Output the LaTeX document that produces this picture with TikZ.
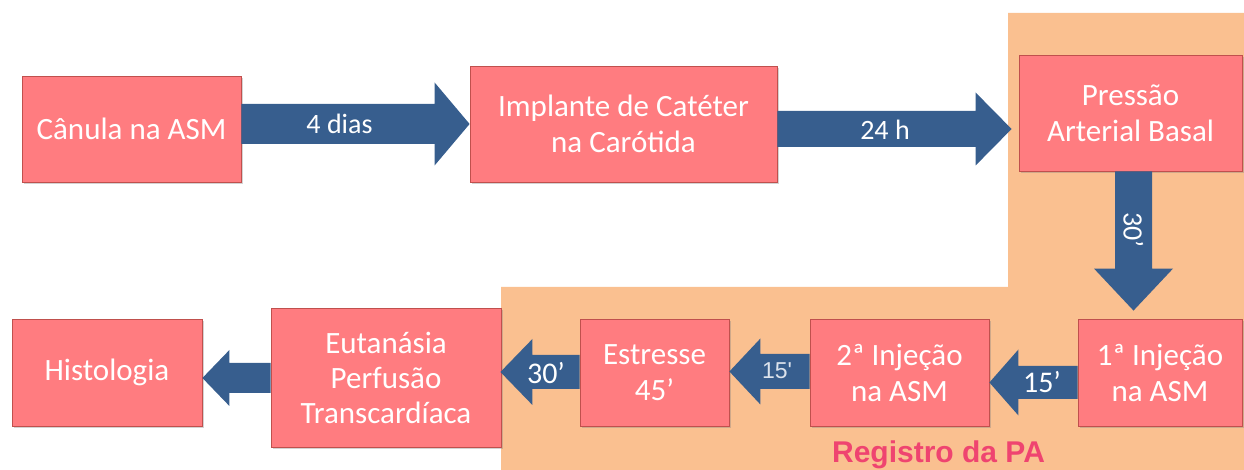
\documentclass[tikz,border=0pt]{standalone}
\usepackage{fontspec}
\setmainfont{Carlito}
\newfontfamily\arialf{Liberation Sans}
\usetikzlibrary{calc,shadows}
\definecolor{boxfill}{HTML}{FF7C80}
\definecolor{boxline}{HTML}{C0504D}
\definecolor{orangebg}{HTML}{FAC090}
\definecolor{arrowblue}{HTML}{375E8E}
\definecolor{regred}{HTML}{EF4470}
\definecolor{lightlab}{HTML}{DCE3EC}
\tikzset{
  stepbox/.style={draw=boxline, line width=0.8pt, fill=boxfill, text=white,
    align=center, inner sep=0pt, font=\fontsize{31pt}{36pt}\selectfont,
    drop shadow={shadow xshift=2pt, shadow yshift=-2pt, opacity=0.35}},
  blockarrow/.style={fill=arrowblue},
  arrlabel/.style={text=white, inner sep=0pt, font=\fontsize{28pt}{32pt}\selectfont},
}
\newcommand{\rarrow}[6]{\fill[blockarrow] let \p1=(#1), \p2=(#2) in
  (\x1,#3pt+#4pt) -- (\x2-#6pt,#3pt+#4pt) -- (\x2-#6pt,#3pt+#5pt) -- (\x2,#3pt)
  -- (\x2-#6pt,#3pt-#5pt) -- (\x2-#6pt,#3pt-#4pt) -- (\x1,#3pt-#4pt) -- cycle;}
\newcommand{\larrow}[6]{\fill[blockarrow] let \p1=(#1), \p2=(#2) in
  (\x1,#3pt+#4pt) -- (\x2+#6pt,#3pt+#4pt) -- (\x2+#6pt,#3pt+#5pt) -- (\x2,#3pt)
  -- (\x2+#6pt,#3pt-#5pt) -- (\x2+#6pt,#3pt-#4pt) -- (\x1,#3pt-#4pt) -- cycle;}
\begin{document}
\begin{tikzpicture}[x=1pt,y=1pt]
\useasboundingbox (0,0) rectangle (1244,470);
% background region
\fill[orangebg] (1008,457) -- (1244,457) -- (1244,0) -- (501,0) -- (501,183) -- (1008,183) -- cycle;
% nodes
\node[stepbox, minimum width=219pt, minimum height=106pt] (can) at (131.5,341) {Cânula na ASM};
\node[stepbox, minimum width=307pt, minimum height=116pt] (imp) at (623.5,346) {Implante de Catéter\\na Carótida};
\node[stepbox, minimum width=223pt, minimum height=116pt] (pre) at (1130.5,357) {Pressão\\Arterial Basal};
\node[stepbox, minimum width=164pt, minimum height=107pt] (inj1) at (1160,97.5) {1ª Injeção\\na ASM};
\node[stepbox, minimum width=179pt, minimum height=107pt] (inj2) at (899.5,97.5) {2ª Injeção\\na ASM};
\node[stepbox, minimum width=149pt, minimum height=107pt] (est) at (654.5,97.5) {Estresse\\45’};
\node[stepbox, minimum width=230pt, minimum height=139pt, font=\fontsize{31pt}{35pt}\selectfont] (eut) at (386,92.5) {Eutanásia\\Perfusão\\Transcardíaca};
\node[stepbox, minimum width=190pt, minimum height=107pt] (his) at (107,97.5) {Histologia};
% connectors
\rarrow{can.east}{imp.west}{346}{20}{41.5}{35}
\rarrow{imp.east}{[xshift=-7pt]pre.west}{341}{18}{36.5}{36}
\fill[blockarrow] let \p1=(pre.south), \p2=([yshift=8pt]inj1.north) in
  (1115,\y1) -- (1115,\y2+42pt) -- (1094,\y2+42pt) -- (1133.5,\y2) -- (1173,\y2+42pt)
  -- (1152,\y2+42pt) -- (1152,\y1) -- cycle;
\larrow{inj1.west}{inj2.east}{87.5}{16.5}{33}{29}
\larrow{inj2.west}{est.east}{98.5}{17.5}{33}{31}
\larrow{est.west}{[xshift=-1pt]eut.east}{98}{17}{33}{32}
\larrow{eut.west}{his.east}{92}{15}{28}{27}
% labels
\node[arrlabel] (l1) at (339.5,346) {4 dias};
\node[arrlabel] (l2) at (885,340) {24 h};
\node[arrlabel, rotate=-90] (l3) at (1133.5,240) {30’};
\node[arrlabel, font=\fontsize{30pt}{32pt}\selectfont] (l4) at (1042,88) {15’};
\node[text=lightlab, inner sep=0pt, font=\arialf\fontsize{23pt}{26pt}\selectfont] (l5) at (777,99) {15'};
\node[arrlabel, font=\fontsize{30pt}{32pt}\selectfont] (l6) at (546,97) {30’};
\node[text=regred, inner sep=0pt, anchor=base, font=\arialf\bfseries\fontsize{30pt}{32pt}\selectfont] (reg) at (938.5,7) {Registro da PA};
\end{tikzpicture}
\end{document}
